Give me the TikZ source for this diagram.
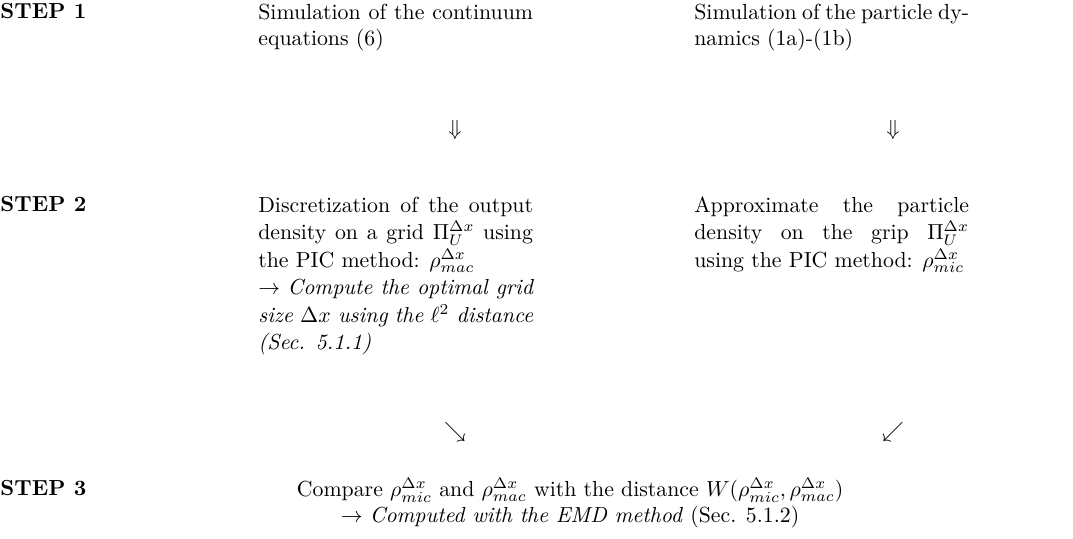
\documentclass[tikz,border=0pt]{standalone}
\begin{document}
\begin{tikzpicture}[x=1pt,y=1pt,
  lbl/.style={anchor=base west, inner sep=0pt, font=\bfseries},
  cell/.style={anchor=north west, inner sep=0pt, text width=126pt, align=justify},
  widecell/.style={cell, font=\fontsize{10}{12.6}\selectfont},
  glyph/.style={inner sep=0pt}]
\useasboundingbox (0,0) rectangle (492.2,-246.8);
% row 1
\node[lbl] (s1) at (0,-8.7) {STEP 1};
\node[cell] (a1) at (118.3,-0.3) {\strut Simulation of the continuum equations (6)};
\node[cell] (b1) at (318.3,-0.3) {\strut Simulation of the particle dynamics (1a)-(1b)};
% arrows
\node[glyph] (da) at (208.7,-59.6) {$\Downarrow$};
\node[glyph] (db) at (409.6,-59.6) {$\Downarrow$};
% row 2
\node[lbl] (s2) at (0,-96.8) {STEP 2};
\node[widecell] (a2) at (118.3,-88.4) {\strut Discretization of the output density on a grid $\Pi_U^{\Delta x}$ using the PIC method: $\rho^{\Delta x}_{mac}$\\
$\rightarrow$ \textit{Compute the optimal grid size $\Delta x$ using the $\ell^2$ distance (Sec. 5.1.1)}};
\node[widecell] (b2) at (318.3,-88.4) {\strut Approximate the particle density on the grip $\Pi_U^{\Delta x}$ using the PIC method: $\rho^{\Delta x}_{mic}$};
% arrows
\node[glyph] (ea) at (208.7,-198.2) {$\searrow$};
\node[glyph] (eb) at (409.6,-198.2) {$\swarrow$};
% row 3
\node[lbl] (s3) at (0,-227.5) {STEP 3};
\node[anchor=north, inner sep=0pt, align=center] (c3) at (261.5,-219.1) {\strut Compare $\rho^{\Delta x}_{mic}$ and $\rho^{\Delta x}_{mac}$ with the distance $W(\rho^{\Delta x}_{mic},\rho^{\Delta x}_{mac})$\\
$\rightarrow$ \textit{Computed with the EMD method} (Sec. 5.1.2)};
\end{tikzpicture}
\end{document}
